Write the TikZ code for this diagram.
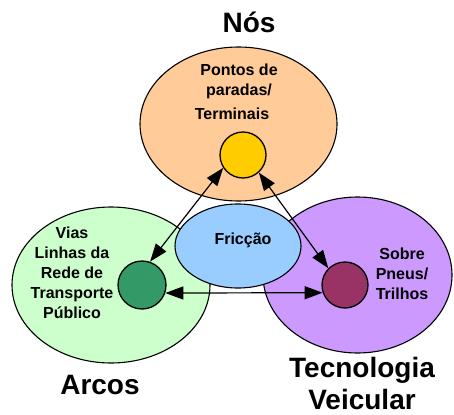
\documentclass[tikz,border=0pt]{standalone}
\usepackage{fontspec}
\setmainfont{Liberation Sans}
\usepackage{xcolor}
\usetikzlibrary{arrows.meta,shapes.geometric}

\definecolor{peach}{HTML}{FFCC99}
\definecolor{mintgreen}{HTML}{CCFFCC}
\definecolor{skyblue}{HTML}{99CCFF}
\definecolor{lilac}{HTML}{CC99FF}
\definecolor{gold}{HTML}{FFCC00}
\definecolor{seagreen}{HTML}{339966}
\definecolor{plum}{HTML}{993366}

\tikzset{
	region/.style={ellipse,draw,line width=1.1pt,inner sep=0pt},
	hub/.style={circle,draw,line width=1.3pt,inner sep=0pt,minimum size=46pt},
	link/.style={arrows={Triangle[length=18pt,width=13pt]-Triangle[length=18pt,width=13pt]},line width=1.2pt},
	lbl/.style={font=\bfseries\fontsize{16}{20}\selectfont,align=center},
	title/.style={font=\bfseries\fontsize{28}{32}\selectfont,align=center}
}

\begin{document}
\begin{tikzpicture}[x=1pt,y=-1pt]
	\useasboundingbox (0,0) rectangle (454,414);
	% the four regions
	\node[region,fill=peach,minimum width=197pt,minimum height=154pt] (nos) at (238.5,124) {};
	\node[region,fill=mintgreen,minimum width=198pt,minimum height=156pt] (arcos) at (111,285) {};
	\node[region,fill=lilac,minimum width=189pt,minimum height=156pt] (tec) at (357.5,275) {};
	\node[region,fill=skyblue,minimum width=126pt,minimum height=84pt] (friccao) at (238,246) {};
	% texts
	\node[lbl] (pontos) at (239,81) {Pontos de\\paradas/};
	\node[lbl] (term) at (232,114) {Terminais};
	\node[lbl] (vias) at (72,273) {Vias\\Linhas da\\Rede de\\Transporte\\P\'ublico};
	\node[lbl] (pneus) at (402,274) {Sobre\\Pneus/\\Trilhos};
	\node[lbl] (fric) at (243,240) {Fric\c{c}\~ao};
	\node[title] (tnos) at (249,22) {N\'os};
	\node[title] (tarcos) at (100,385) {Arcos};
	\node[title] (ttec) at (362,383) {Tecnologia\\Veicular};
	% hubs
	\node[hub,fill=gold] (yel) at (243,155) {};
	\node[hub,fill=seagreen,minimum size=48pt] (grn) at (142,285) {};
	\node[hub,fill=plum] (mar) at (345,285) {};
	% links
	\draw[link] (yel.213) -- (grn.71);
	\draw[link] (yel.312) -- (mar.135);
	\draw[link] (grn.-19) -- (mar.199);
\end{tikzpicture}
\end{document}
